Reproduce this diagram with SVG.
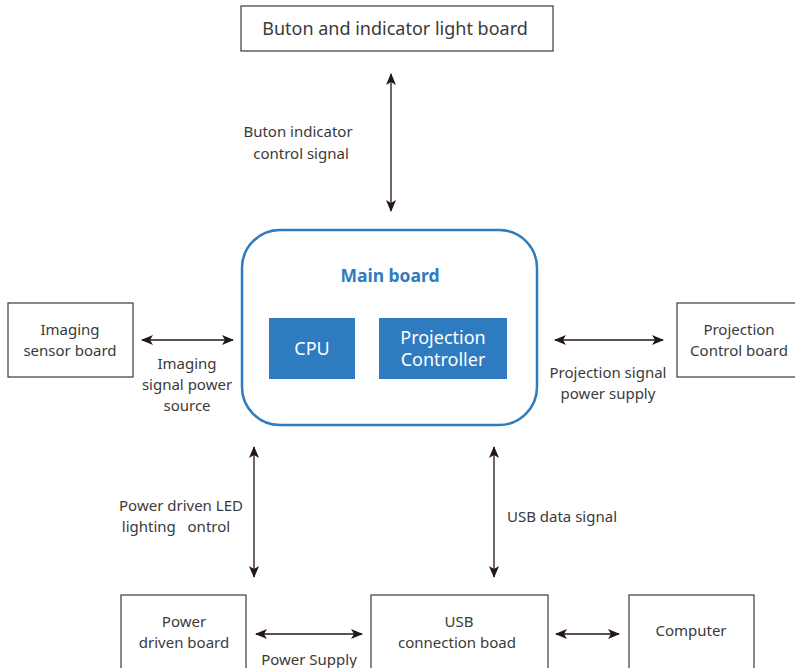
<svg xmlns="http://www.w3.org/2000/svg" width="795" height="668" viewBox="0 0 795 668">
<defs>
<marker id="ah" viewBox="0 0 12 10" refX="11" refY="5" markerWidth="12" markerHeight="10" markerUnits="userSpaceOnUse" orient="auto-start-reverse">
<path d="M0,0 L12,5 L0,10 L3,5 z" fill="#231815"/>
</marker>
<style>
.box{fill:#fff;stroke:#3a3a3a;stroke-width:1.2}
.t{font-family:"Noto Sans","Open Sans",sans-serif;font-size:15px;fill:#3a3a3a;text-anchor:middle}
.big{font-size:18px}
.blue{fill:#2e7bbf;font-weight:bold;font-size:17.5px}
.w{fill:#fff;font-size:18px}
.c{stroke:#231815;stroke-width:1.3;fill:none;marker-start:url(#ah);marker-end:url(#ah)}
</style>
</defs>
<rect width="795" height="668" fill="#fff"/>
<g id="connectors">
<line class="c" x1="391" y1="74" x2="391" y2="211"/>
<line class="c" x1="142" y1="340" x2="233" y2="340"/>
<line class="c" x1="555" y1="340" x2="663" y2="340"/>
<line class="c" x1="254" y1="447" x2="254" y2="577"/>
<line class="c" x1="494" y1="447" x2="494" y2="577"/>
<line class="c" x1="256" y1="634" x2="362" y2="634"/>
<line class="c" x1="556" y1="634" x2="619" y2="634"/>
</g>
<g id="labels">
<text class="t"><tspan x="298" y="137">Buton indicator</tspan><tspan x="301" y="159">control signal</tspan></text>
<text class="t"><tspan x="187" y="369">Imaging</tspan><tspan x="187" y="390">signal power</tspan><tspan x="187" y="411">source</tspan></text>
<text class="t"><tspan x="608" y="378">Projection signal</tspan><tspan x="608" y="399">power supply</tspan></text>
<text class="t" style="white-space:pre"><tspan x="181" y="511">Power driven LED</tspan><tspan x="176" y="532">lighting   ontrol</tspan></text>
<text class="t" x="562" y="522">USB data signal</text>
<text class="t" x="309" y="665">Power Supply</text>
</g>
<g id="button-board">
<rect class="box" x="241" y="6" width="312" height="45"/>
<text class="t big" x="395" y="35">Buton and indicator light board</text>
</g>
<g id="main-board">
<rect x="242" y="230" width="295" height="195" rx="38" fill="#fff" stroke="#2e7bbf" stroke-width="2.5"/>
<text class="t blue" x="390" y="282">Main board</text>
<g id="cpu">
<rect x="269" y="318" width="86" height="61" fill="#2e7bbf"/>
<text class="t w" x="312" y="355">CPU</text>
</g>
<g id="projection-controller">
<rect x="379" y="318" width="128" height="61" fill="#2e7bbf"/>
<text class="t w"><tspan x="443" y="344">Projection</tspan><tspan x="443" y="366">Controller</tspan></text>
</g>
</g>
<g id="imaging-sensor-board">
<rect class="box" x="8" y="303" width="125" height="74"/>
<text class="t"><tspan x="70" y="335">Imaging</tspan><tspan x="70" y="356">sensor board</tspan></text>
</g>
<g id="projection-control-board">
<rect class="box" x="677" y="303" width="125" height="74"/>
<text class="t"><tspan x="739" y="335">Projection</tspan><tspan x="739" y="356">Control board</tspan></text>
</g>
<g id="power-driven-board">
<rect class="box" x="121" y="595" width="125" height="80"/>
<text class="t"><tspan x="184" y="627">Power</tspan><tspan x="184" y="648">driven board</tspan></text>
</g>
<g id="usb-connection-board">
<rect class="box" x="371" y="595" width="177" height="80"/>
<text class="t"><tspan x="459" y="627">USB</tspan><tspan x="457" y="648">connection boad</tspan></text>
</g>
<g id="computer">
<rect class="box" x="629" y="595" width="125" height="80"/>
<text class="t" x="691" y="636">Computer</text>
</g>
</svg>
